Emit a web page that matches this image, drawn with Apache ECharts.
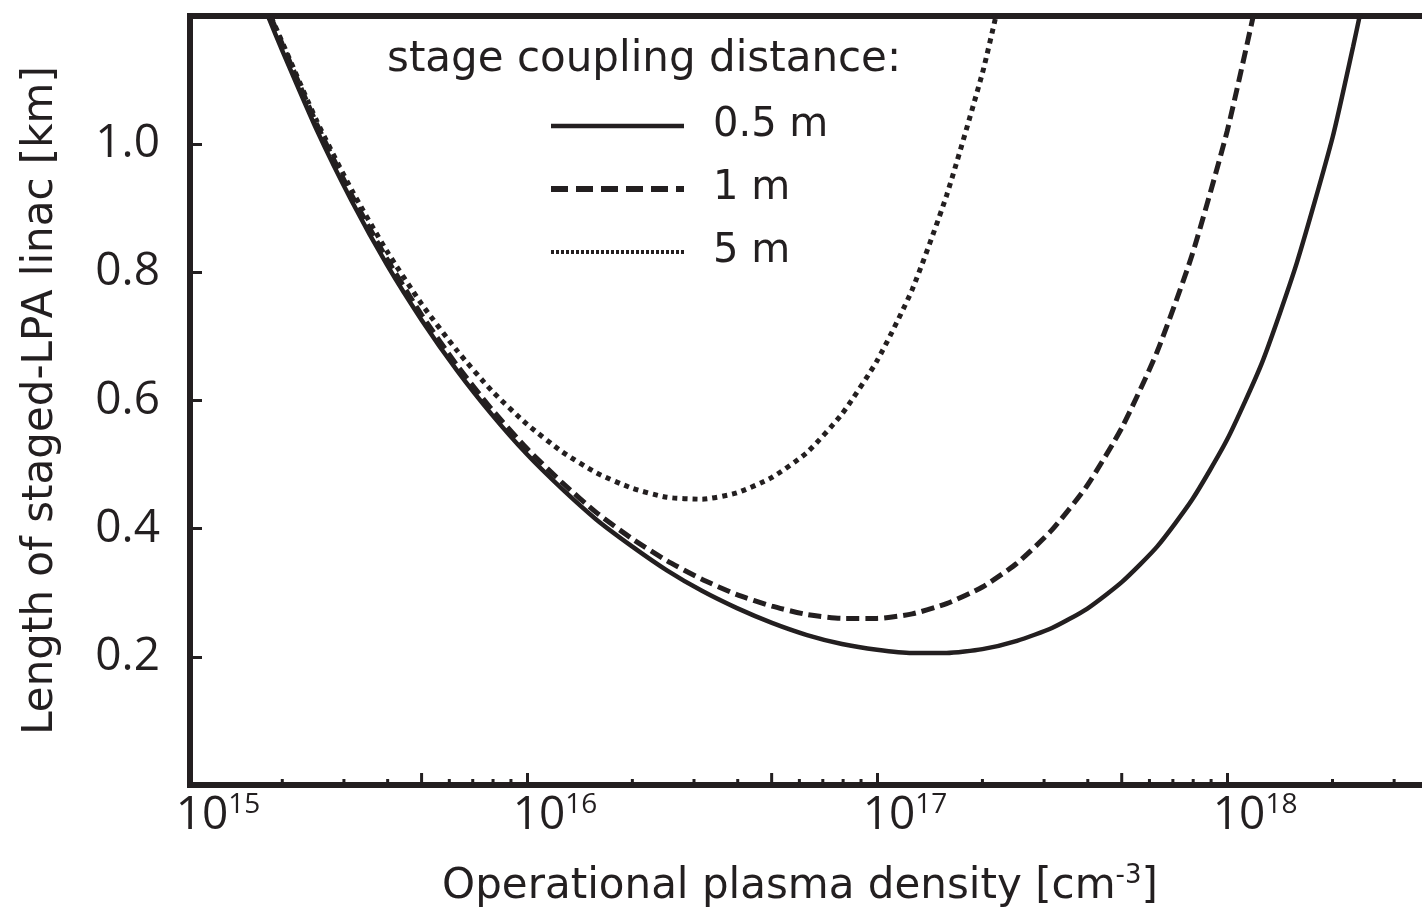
<!DOCTYPE html>
<html>
<head>
<meta charset="utf-8">
<script src="https://cdn.jsdelivr.net/npm/echarts@6/dist/echarts.min.js"></script>
<style>
html,body{margin:0;padding:0;background:#fff;}
#chart{width:1422px;height:911px;}
</style>
</head>
<body>
<div id="chart"></div>
<script>
// ---- data ----
const seriesNames = ['0.5 m', '1 m', '5 m'];

const density05 = [1.82e15, 2.0e15, 2.51e15, 3.16e15, 3.98e15, 5.01e15, 6.31e15, 7.94e15,
  1.0e16, 1.26e16, 1.58e16, 2.0e16, 2.51e16, 3.16e16, 3.98e16, 5.01e16, 6.31e16, 7.94e16,
  1.0e17, 1.26e17, 1.58e17, 2.0e17, 2.51e17, 3.16e17, 3.98e17, 5.01e17, 6.31e17, 7.94e17,
  1.0e18, 1.26e18, 1.58e18, 2.0e18, 2.29e18, 2.4e18];
const length05 = [1.200, 1.146, 1.022, 0.911, 0.812, 0.725, 0.647, 0.578,
  0.516, 0.462, 0.414, 0.372, 0.335, 0.303, 0.276, 0.253, 0.234, 0.220,
  0.211, 0.206, 0.206, 0.212, 0.225, 0.245, 0.275, 0.317, 0.372, 0.445,
  0.539, 0.660, 0.814, 1.010, 1.152, 1.204];

const density1 = [1.86e15, 2.0e15, 2.51e15, 3.16e15, 3.98e15, 5.01e15, 6.31e15, 7.94e15,
  1.0e16, 1.26e16, 1.58e16, 2.0e16, 2.51e16, 3.16e16, 3.98e16, 5.01e16, 6.31e16, 7.94e16,
  1.0e17, 1.26e17, 1.58e17, 2.0e17, 2.51e17, 3.16e17, 3.98e17, 5.01e17, 6.31e17, 7.94e17,
  1.0e18, 1.2e18];
const length1 = [1.197, 1.156, 1.031, 0.920, 0.821, 0.733, 0.655, 0.586,
  0.525, 0.472, 0.425, 0.384, 0.350, 0.321, 0.297, 0.279, 0.266, 0.260,
  0.260, 0.267, 0.283, 0.309, 0.346, 0.398, 0.467, 0.558, 0.676, 0.827,
  1.020, 1.211];

const density5 = [1.86e15, 2.0e15, 2.51e15, 3.16e15, 3.98e15, 5.01e15, 6.31e15, 7.94e15,
  1.0e16, 1.26e16, 1.58e16, 2.0e16, 2.51e16, 3.16e16, 3.98e16, 5.01e16, 6.31e16, 7.94e16,
  1.0e17, 1.26e17, 1.58e17, 2.0e17, 2.19e17];
const length5 = [1.198, 1.159, 1.036, 0.928, 0.833, 0.750, 0.678, 0.615,
  0.563, 0.520, 0.487, 0.463, 0.449, 0.446, 0.456, 0.480, 0.519, 0.579,
  0.662, 0.773, 0.920, 1.111, 1.202];

const minorTicks = [2e15, 3e15, 4e15, 5e15, 6e15, 7e15, 8e15, 9e15,
  2e16, 3e16, 4e16, 5e16, 6e16, 7e16, 8e16, 9e16,
  2e17, 3e17, 4e17, 5e17, 6e17, 7e17, 8e17, 9e17,
  2e18, 3e18];

const xMin = 1.09e15, xMax = 4.11e18;
const yMin = 0, yMax = 1.2, yStep = 0.2;

// ---- chart ----
const INK = '#231f20';
const zip = (xs, ys) => xs.map((x, i) => [x, ys[i]]);
const chart = echarts.init(document.getElementById('chart'), null, {renderer: 'canvas'});

const option = {
  animation: false,
  backgroundColor: '#fff',
  title: {
    text: 'stage coupling distance:',
    left: 382, top: 31,
    textStyle: {fontFamily: 'DejaVu Sans', fontSize: 42, fontWeight: 'normal', color: INK, lineHeight: 48}
  },
  legend: {
    data: [
      {name: seriesNames[0], lineStyle: {width: 4.5, type: 'solid'}},
      {name: seriesNames[1], lineStyle: {width: 6, type: [17, 8]}},
      {name: seriesNames[2], lineStyle: {width: 4, type: [3, 2]}}
    ],
    orient: 'vertical',
    left: 543, top: 99,
    itemWidth: 133, itemHeight: 14, itemGap: 19,
    itemStyle: {opacity: 0},
    textStyle: {fontFamily: 'DejaVu Sans', fontSize: 40, color: INK, lineHeight: 44, padding: [0, 0, 0, 24]},
    selectedMode: false
  },
  grid: {
    left: 190, top: 16, bottom: 126, right: -20,
    outerBoundsMode: 'none', containLabel: false,
    show: true, borderColor: INK, borderWidth: 6, backgroundColor: 'transparent'
  },
  xAxis: {
    type: 'log', logBase: 10, min: xMin, max: xMax,
    name: '{t|Operational plasma density [cm}{s|-3}{t|]}',
    nameLocation: 'middle', nameGap: 78,
    nameTextStyle: {
      padding: [0, 32, 0, 0],
      rich: {
        t: {fontFamily: 'DejaVu Sans', fontSize: 42, color: INK, lineHeight: 48},
        s: {fontFamily: 'DejaVu Sans', fontSize: 26, color: INK, lineHeight: 26, verticalAlign: 'top'}
      }
    },
    axisLine: {show: true, onZero: false, lineStyle: {color: INK, width: 6}},
    axisTick: {show: true, inside: true, length: 12, lineStyle: {color: INK, width: 3}},
    minorTick: {show: false},
    splitLine: {show: false},
    axisLabel: {
      show: true, margin: 6, align: 'center', padding: [0, 0, 0, 56],
      formatter: function (v) {
        const e = Math.log10(v);
        const r = Math.round(e);
        if (Math.abs(e - r) > 0.01 && v > 1e16) return '';
        return '{b|10}{s|' + r + '}';
      },
      rich: {
        b: {fontFamily: 'Open Sans', fontSize: 46, color: INK, lineHeight: 50},
        s: {fontFamily: 'Open Sans', fontSize: 28, color: INK, lineHeight: 30, verticalAlign: 'top'}
      }
    }
  },
  yAxis: {
    type: 'value', min: yMin, max: yMax, interval: yStep,
    name: 'Length of staged-LPA linac [km]',
    nameLocation: 'middle', nameRotate: 90, nameGap: 128,
    nameTextStyle: {fontFamily: 'DejaVu Sans', fontSize: 42, color: INK},
    axisLine: {show: true, onZero: false, lineStyle: {color: INK, width: 6}},
    axisTick: {show: true, inside: true, length: 12, lineStyle: {color: INK, width: 3}},
    splitLine: {show: false},
    axisLabel: {
      showMinLabel: false, showMaxLabel: false, margin: 30,
      fontFamily: 'Open Sans', fontSize: 46, color: INK,
      formatter: v => v.toFixed(1)
    }
  },
  series: [
    {
      name: seriesNames[0], type: 'line', data: zip(density05, length05),
      showSymbol: false, symbol: 'none', smooth: 0.2,
      lineStyle: {color: INK, width: 4.5, type: 'solid'}, itemStyle: {color: INK}
    },
    {
      name: seriesNames[1], type: 'line', data: zip(density1, length1),
      showSymbol: false, symbol: 'none', smooth: 0.2,
      lineStyle: {color: INK, width: 5, type: [13, 6]}, itemStyle: {color: INK}
    },
    {
      name: seriesNames[2], type: 'line', data: zip(density5, length5),
      showSymbol: false, symbol: 'none', smooth: 0.2,
      lineStyle: {color: INK, width: 5, type: [5, 5]}, itemStyle: {color: INK}
    },
    {
      name: 'minor ticks', type: 'custom', silent: true,
      data: minorTicks.map(v => [v, yMin]),
      encode: {x: 0, y: 1},
      renderItem: function (params, api) {
        const v = api.value(0);
        const p = api.coord([v, api.value(1)]);
        const mant = Math.round(v / Math.pow(10, Math.floor(Math.log10(v) + 1e-9)));
        const len = mant === 5 ? 12 : 6;
        return {type: 'line', shape: {x1: p[0], y1: p[1], x2: p[0], y2: p[1] - len},
          style: {stroke: INK, lineWidth: 3}};
      }
    }
  ]
};
chart.setOption(option);
</script>
</body>
</html>
